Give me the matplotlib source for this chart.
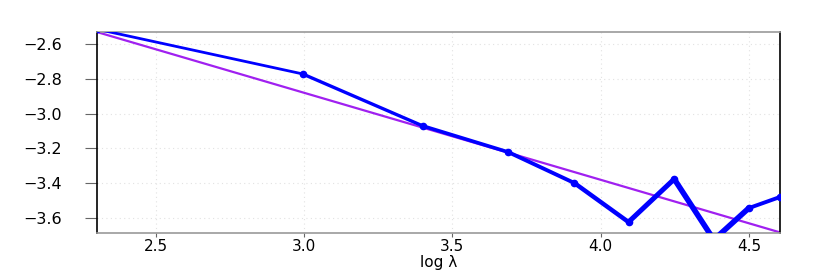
import numpy as np
import matplotlib
matplotlib.use("Agg")
import matplotlib.pyplot as plt

# data
log_lam = np.log([10, 20, 30, 40, 50, 60, 70, 80, 90, 100])
score = [-2.515, -2.772, -3.071, -3.221, -3.399, -3.623, -3.376, -3.725, -3.543, -3.479]
fit_slope, fit_icpt = -0.5, -1.38
xtick_vals = [2.5, 3.0, 3.5, 4.0, 4.5]
ytick_vals = [-3.6, -3.4, -3.2, -3.0, -2.8, -2.6]

# segment widths (pt), thicker toward the right
seg_w = [2.0, 2.4, 2.6, 2.8, 3.2, 3.6, 4.0, 4.0, 2.8]

fig = plt.figure(figsize=(8.30, 2.73), dpi=100)
ax = fig.add_axes([0.1169, 0.1465, 0.8229, 0.7363])

xs = np.array([np.log(10), np.log(100)])
ax.plot(xs, fit_icpt + fit_slope * xs, color="#A020F0", lw=1.6, zorder=2)

for i in range(len(log_lam) - 1):
    ax.plot(log_lam[i:i + 2], score[i:i + 2], color="#0000FF", lw=seg_w[i],
            solid_capstyle="round", zorder=3)
ax.plot(log_lam, score, "o", color="#0000FF", ms=4.5, zorder=4)

ax.set_xlim(np.log(10), np.log(100))
ax.set_ylim(-3.686, -2.531)
ax.set_xticks(xtick_vals)
ax.set_yticks(ytick_vals)
ax.set_xticklabels([f"{v:.1f}" for v in xtick_vals])
ax.set_yticklabels([f"\u2212{-v:.1f}" for v in ytick_vals])
ax.grid(True, color="#e2e2e2", ls=(0, (1, 3)), lw=0.8)
ax.set_axisbelow(True)

for side in ["left", "right"]:
    ax.spines[side].set_color("black")
    ax.spines[side].set_linewidth(1.2)
for side in ["top", "bottom"]:
    ax.spines[side].set_color("#999999")
    ax.spines[side].set_linewidth(1.2)

ax.tick_params(axis="y", length=9, color="#666666", labelsize=11.5, pad=16)
ax.tick_params(axis="x", length=3, color="#666666", labelsize=11, pad=1)
ax.set_xlabel("log \u03bb", fontsize=11, labelpad=1)

fig.savefig("out.png", dpi=100)
